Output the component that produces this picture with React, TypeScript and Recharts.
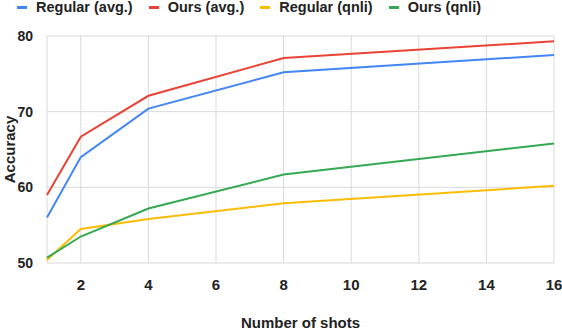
import { LineChart, Line, XAxis, YAxis, CartesianGrid, Legend } from "recharts";

const shots = [1, 2, 4, 8, 16];
const regularAvg = [56.0, 64.0, 70.4, 75.2, 77.5];
const oursAvg = [59.0, 66.7, 72.1, 77.1, 79.3];
const regularQnli = [50.4, 54.5, 55.8, 57.9, 60.2];
const oursQnli = [50.7, 53.5, 57.2, 61.7, 65.8];
const xTicks = [2, 4, 6, 8, 10, 12, 14, 16];
const yTicks = [50, 60, 70, 80];

const series = [
  { key: "regularAvg", name: "Regular (avg.)", color: "#4285F4" },
  { key: "oursAvg", name: "Ours (avg.)", color: "#EA4335" },
  { key: "regularQnli", name: "Regular (qnli)", color: "#FBBC04" },
  { key: "oursQnli", name: "Ours (qnli)", color: "#34A853" },
];

const data = shots.map((s, i) => ({
  shots: s,
  regularAvg: regularAvg[i],
  oursAvg: oursAvg[i],
  regularQnli: regularQnli[i],
  oursQnli: oursQnli[i],
}));

const font = "'Liberation Sans', Arial, sans-serif";

function TopLegend() {
  return (
    <div style={{ display: "flex", fontFamily: font, fontWeight: "bold", fontSize: 14.5, color: "#222", paddingLeft: 17, height: 16, alignItems: "center" }}>
      {series.map((s) => (
        <div key={s.key} style={{ display: "flex", alignItems: "center", marginRight: 16 }}>
          <span style={{ display: "inline-block", width: 10, height: 3, background: s.color, marginRight: 9 }} />
          <span>{s.name}</span>
        </div>
      ))}
    </div>
  );
}

export default function App() {
  return (
    <div style={{ position: "absolute", left: 0, top: 0, background: "#fff" }}>
      <LineChart width={562} height={330} data={data} margin={{ top: 20, right: 8, left: 7, bottom: 7 }}>
        <Legend verticalAlign="top" align="left" content={() => <TopLegend />} wrapperStyle={{ top: -1, left: 0 }} />
        <CartesianGrid stroke="#d9d9d9" strokeWidth={1} />
        <XAxis
          dataKey="shots"
          type="number"
          domain={[1, 16]}
          ticks={xTicks}
          axisLine={false}
          tickLine={false}
          height={60}
          tick={{ fontFamily: font, fontWeight: "bold", fontSize: 15, fill: "#222" }}
          tickMargin={10}
          label={{ value: "Number of shots", position: "insideBottom", offset: -5, style: { fontFamily: font, fontWeight: "bold", fontSize: 15, fill: "#222" } }}
        />
        <YAxis
          domain={[50, 80]}
          ticks={yTicks}
          axisLine={false}
          tickLine={false}
          width={40}
          tick={{ fontFamily: font, fontWeight: "bold", fontSize: 14, fill: "#222" }}
          tickMargin={8}
          label={{ value: "Accuracy", angle: -90, position: "insideLeft", offset: 3, style: { fontFamily: font, fontWeight: "bold", fontSize: 15, fill: "#222", textAnchor: "middle" } }}
        />
        {series.map((s) => (
          <Line key={s.key} dataKey={s.key} name={s.name} stroke={s.color} strokeWidth={2} dot={false} type="linear" isAnimationActive={false} />
        ))}
      </LineChart>
    </div>
  );
}
